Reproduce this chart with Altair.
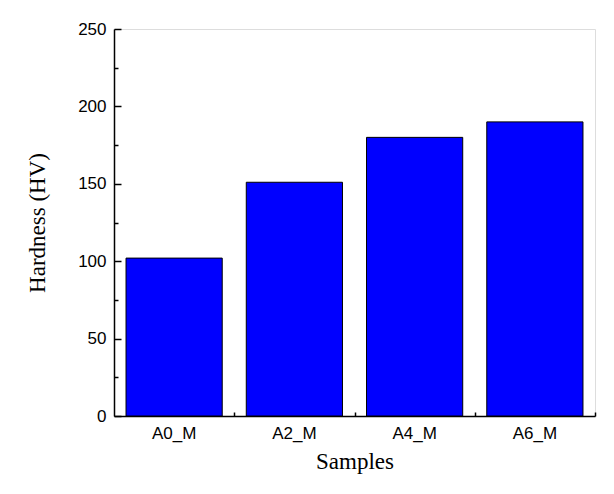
import altair as alt
import pandas as pd

samples = ["A0_M", "A2_M", "A4_M", "A6_M"]
hardness = [102, 151, 180, 190]

df = pd.DataFrame({"Samples": samples, "Hardness": hardness})

W, H = 481, 387
step = W / 4.0

xscale = alt.Scale(paddingInner=0.2, paddingOuter=0.1)
yscale = alt.Scale(domain=[0, 250], nice=False)

bars = alt.Chart(df).mark_bar(color="#0000FF", stroke="black", strokeWidth=1).encode(
    x=alt.X("Samples:N", sort=samples, scale=xscale,
            axis=alt.Axis(title="Samples", labelAngle=0, labelFont="Liberation Sans",
                          labelFontSize=17, labelColor="black", labelPadding=14,
                          titleFont="Liberation Serif", titleFontSize=23,
                          titleFontWeight="normal", titleColor="black", titlePadding=9,
                          domainColor="black", domainWidth=1.5, tickColor="black",
                          tickWidth=1.5, tickSize={"expr": "-5"})),
    y=alt.Y("Hardness:Q", scale=yscale,
            axis=alt.Axis(title="Hardness (HV)", values=[0, 50, 100, 150, 200, 250],
                          labelFont="Liberation Sans", labelFontSize=17, labelColor="black",
                          labelPadding=15, titleFont="Liberation Serif", titleFontSize=23,
                          titleFontWeight="normal", titleColor="black",
                          titleX=-65, titleY=H / 2, grid=False,
                          domainColor="black", domainWidth=1.5, tickColor="black",
                          tickWidth=1.5, tickSize={"expr": "-7"})),
)

minor = alt.Chart(df).mark_bar(opacity=0).encode(
    x=alt.X("Samples:N", sort=samples, scale=xscale,
            axis=alt.Axis(title=None, labels=False, domain=False, orient="bottom",
                          tickColor="black", tickWidth=1.5, tickSize={"expr": "-4"},
                          bandPosition=0.5, tickOffset=step / 2)),
    y=alt.Y("Hardness:Q", scale=yscale,
            axis=alt.Axis(title=None, labels=False, domain=False, orient="left",
                          values=[25, 75, 125, 175, 225], grid=False,
                          tickColor="black", tickWidth=1.5, tickSize={"expr": "-4"})),
)

chart = alt.layer(bars, minor).resolve_axis(x="independent", y="independent").properties(
    width=W, height=H,
    autosize=alt.AutoSizeParams(type="none"),
    padding={"left": 106, "top": 21, "right": 10, "bottom": 70},
).configure_view(stroke=None).configure(background="white")

chart.save("out.html", embed_options={"renderer": "svg", "actions": False})
